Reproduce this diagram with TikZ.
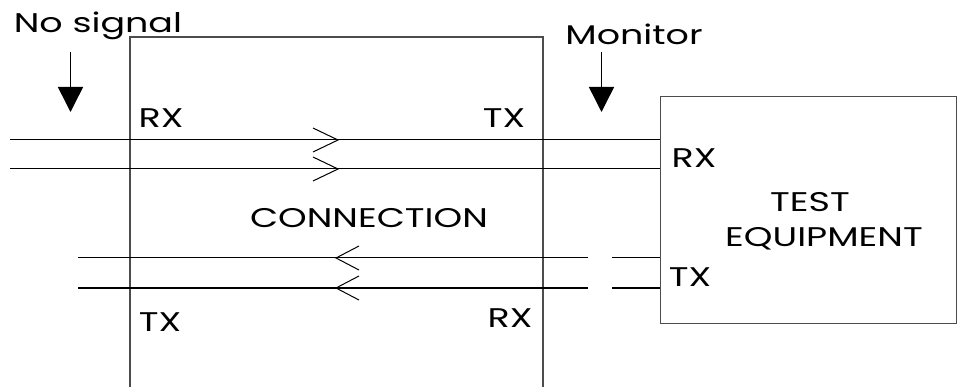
\documentclass[tikz,border=0pt]{standalone}
\usepackage{fontspec}
\setmainfont{Poppins}[FakeStretch=1.35]
\usetikzlibrary{positioning,arrows.meta}

\begin{document}
\begin{tikzpicture}[x=1pt,y=-1pt,
 every node/.style={font=\fontsize{27}{35}\selectfont,inner sep=0pt,anchor=base},
 box/.style={draw=black!70,line width=1.2pt},
 wire/.style={line width=1pt},
 heavy/.style={line width=2pt},
 probe/.style={line width=1.5pt,-{Triangle[width=25pt,length=25pt]}}]
\useasboundingbox (0,0) rectangle (959,387);
% connection block, open at the bottom
\draw[box] (130,390) -- (130,37) -- (543,37) -- (543,390);
\node[box,minimum width=296pt,minimum height=227pt,anchor=north west] (te) at (660,96) {};
% wire ends
\coordinate (a1) at (10,140);
\coordinate (a2) at (10,169);
\coordinate (b1) at (78,258);
\coordinate (b2) at (78,288);
\coordinate (g1) at (588,258);
\coordinate (g2) at (588,288);
\coordinate (h1) at (612,258);
\coordinate (h2) at (612,288);
\draw[wire] (a1) -- (a1 -| te.west);
\draw[wire] (a2) -- (a2 -| te.west);
\draw[wire] (b1) -- (g1);
\draw[heavy] (b2) -- (g2);
\draw[wire] (h1) -- (h1 -| te.west);
\draw[heavy] (h2) -- (h2 -| te.west);
% direction marks
\foreach \y in {140,169}
  \draw[wire] (313,\y-12) -- (338,\y) -- (313,\y+12);
\foreach \y in {258,288}
  \draw[wire] (359,\y-12) -- (336,\y) -- (359,\y+12);
% probes
\node (ns) at (98,33) {No signal};
\node (mon) at (634,45) {Monitor};
\coordinate (ns1) at (70.5,52);
\coordinate (ns2) at (70.5,112);
\coordinate (mo1) at (601.5,52);
\coordinate (mo2) at (601.5,112);
\draw[probe] (ns1) -- (ns2);
\draw[probe] (mo1) -- (mo2);
% port labels
\node (rx1) at (161,128) {RX};
\node (tx1) at (504,128) {TX};
\node (tx2) at (160,332) {TX};
\node (rx2) at (510,328) {RX};
\node (rx3) at (694,168) {RX};
\node (tx3) at (690,287) {TX};
\node (con) at (369,228) {CONNECTION};
\node (tel1) at (810,212) {TEST};
\node (tel2) at (824,247) {EQUIPMENT};
\end{tikzpicture}
\end{document}
